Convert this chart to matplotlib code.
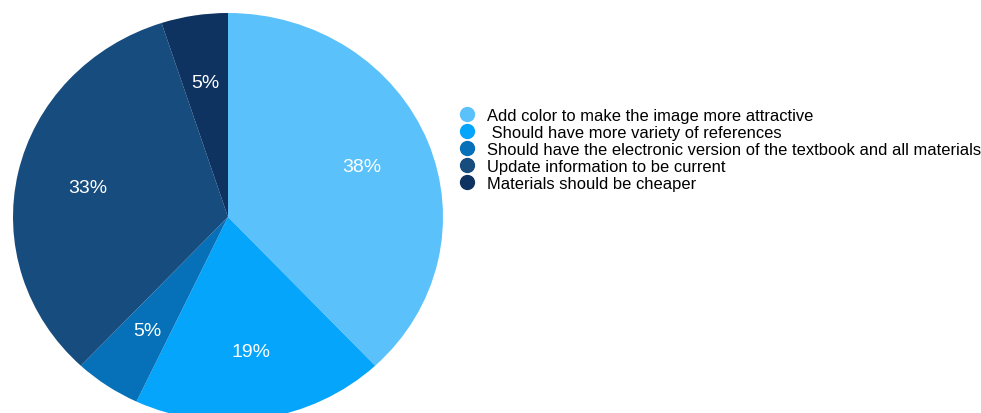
import matplotlib.pyplot as plt
from matplotlib.lines import Line2D

plt.rcParams['font.family'] = ['Liberation Sans', 'DejaVu Sans']

labels = ['Add color to make the image more attractive',
          ' Should have more variety of references',
          'Should have the electronic version of the textbook and all materials',
          'Update information to be current',
          'Materials should be cheaper']
values = [38, 19, 5, 33, 5]
colors = ['#5ac1fa', '#05a5fc', '#0671b8', '#174c7e', '#0f3360']

fig = plt.figure(figsize=(9.81, 4.14), dpi=100)
# pie is slightly squashed vertically in the reference and cut at the bottom
ax = fig.add_axes([13 / 981, -8 / 414, 430 / 981, 408 / 414])
ax.pie(values, colors=colors, startangle=90, counterclock=False,
       autopct='%d%%', pctdistance=0.67,
       textprops={'color': 'white', 'fontsize': 14})
ax.set_aspect('auto')
ax.set_xlim(-1, 1)
ax.set_ylim(-1, 1)
ax.axis('off')

# Legend
handles = [Line2D([], [], marker='o', linestyle='', markersize=10,
                  markerfacecolor=c, markeredgecolor=c) for c in colors]
fig.legend(handles, labels, loc='upper left', bbox_to_anchor=(460 / 981, 1 - 109 / 414),
           frameon=False, fontsize=11.9, labelspacing=0.115, handletextpad=0.75,
           handlelength=0.9, borderpad=0, borderaxespad=0)

fig.savefig('out.png', dpi=100)
